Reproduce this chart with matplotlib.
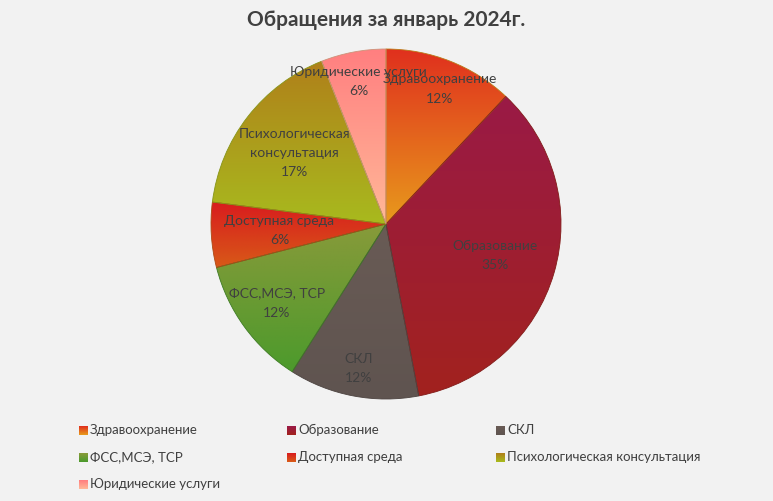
import textwrap
import numpy as np
import matplotlib
matplotlib.use("Agg")
import matplotlib.pyplot as plt
from matplotlib.colors import to_rgb

# ---- data ----
categories = ["Здравоохранение", "Образование", "СКЛ", "ФСС,МСЭ, ТСР",
              "Доступная среда", "Психологическая консультация", "Юридические услуги"]
values = [12, 35, 12, 12, 6, 17, 6]
title = "Обращения за январь 2024г."

# ---- styles ----
top_colors = ["#E0301E", "#9A1A46", "#695B55", "#889A3A", "#D81C1E", "#B0801A", "#FF7F80"]
bottom_colors = ["#E89A1C", "#A2221E", "#5F5450", "#4C9A2C", "#D85A18", "#A8BA1E", "#FFB898"]
label_r = [0.83, 0.65, 0.84, 0.77, 0.61, 0.66, 0.83]
TXT = "#404040"
BG = "#F2F2F2"
FONT = ["Lato", "DejaVu Sans"]

W, H = 773, 501
fig = plt.figure(figsize=(W / 100, H / 100), dpi=100, facecolor=BG)
ax = fig.add_axes([0, 0, 1, 1])
ax.set_facecolor(BG)

cx, cy, R = 386, H - 224, 175
wedges, _ = ax.pie(values, center=(cx, cy), radius=R, startangle=90,
                   counterclock=False, wedgeprops=dict(linewidth=0.6))


def grad(c_top, c_bot, n=256):
    t = np.linspace(0, 1, n)[:, None]
    a, b = np.array(to_rgb(c_bot)), np.array(to_rgb(c_top))
    return (a[None, :] * (1 - t) + b[None, :] * t)[:, None, :]


for i, w in enumerate(wedges):
    w.set_facecolor("none")
    ext = w.get_path().get_extents()
    img = ax.imshow(grad(top_colors[i], bottom_colors[i]), origin="lower",
                    extent=[ext.x0, ext.x1, ext.y0, ext.y1], aspect="auto",
                    interpolation="bilinear", zorder=1)
    img.set_clip_path(w)
    w.set_edgecolor(tuple(np.array(to_rgb(bottom_colors[i])) * 0.8))
    w.set_zorder(2)
    # label
    ang = np.deg2rad((w.theta1 + w.theta2) / 2)
    lx = cx + label_r[i] * R * np.cos(ang)
    ly = cy + label_r[i] * R * np.sin(ang)
    txt = textwrap.fill(categories[i], 18) + f"\n{values[i]}%"
    ax.text(lx, ly, txt, ha="center", va="center", color=TXT, fontsize=10,
            family=FONT, linespacing=1.72, zorder=5)

# ---- legend ----
col_x = [79, 287, 496]
row_y = [430, 457, 484]
sq = 9
for i, name in enumerate(categories):
    x = col_x[i % 3]
    y = H - row_y[i // 3]
    ax.imshow(grad(top_colors[i], bottom_colors[i], 16), origin="lower",
              extent=[x, x + sq, y - sq / 2, y + sq / 2], aspect="auto", zorder=3)
    ax.text(x + sq + 2, y, name, ha="left", va="center", color=TXT,
            fontsize=9.5, family=FONT)

ax.text(cx, H - 20, title, ha="center", va="center", color=TXT,
        fontsize=15, fontweight="bold", family=FONT)

ax.set_xlim(0, W)
ax.set_ylim(0, H)
ax.set_aspect("auto")
ax.axis("off")
fig.savefig("out.png", dpi=100, facecolor=BG)
